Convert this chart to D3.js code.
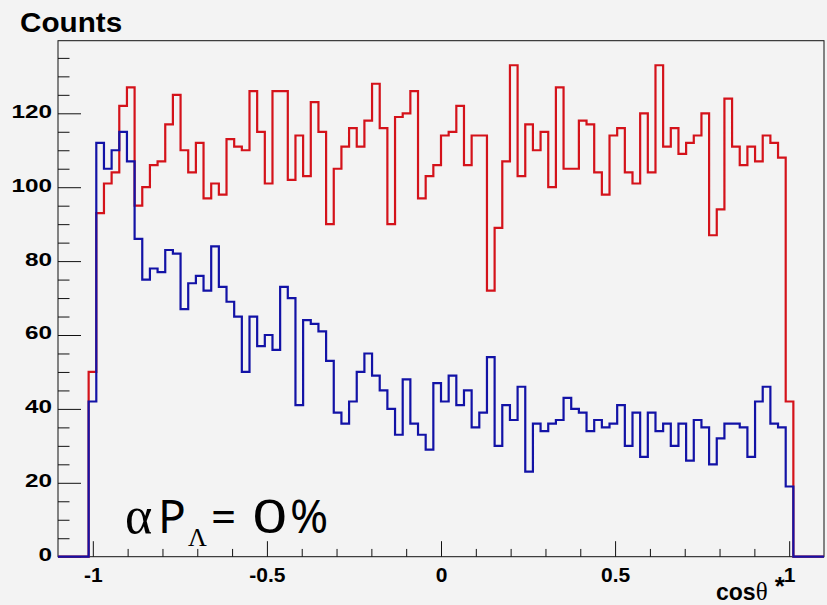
<!DOCTYPE html>
<html>
<head>
<meta charset="utf-8">
<script src="https://cdn.jsdelivr.net/npm/d3@7"></script>
<style>
  html, body { margin: 0; padding: 0; background: #f3f3f3; }
  svg { display: block; }
</style>
</head>
<body>
<svg id="chart" width="827" height="605"></svg>
<script>
// Histogram binning: 92 filled bins of width 0.022 starting at -1.012
const binLow = -1.012;
const binWidth = 0.022;

// Counts per bin (unpolarised sample, red)
const redCounts = [
  50, 93, 101, 104, 122, 127, 95, 100, 106, 107,
  117, 125, 110, 104, 112, 97, 101, 98, 113, 111,
  110, 126, 115, 101, 126, 126, 102, 114, 103, 123,
  115, 90, 105, 111, 116, 111, 118, 128, 116, 90,
  119, 120, 126, 97, 103, 106, 114, 115, 122, 106,
  114, 114, 72, 89, 107, 133, 103, 117, 110, 115,
  100, 127, 105, 105, 118, 117, 104, 98, 114, 116,
  104, 101, 120, 104, 133, 111, 116, 109, 112, 114,
  120, 87, 94, 124, 111, 106, 111, 107, 114, 112,
  108, 42
];

// Counts per bin (accepted sample, blue)
const blueCounts = [
  42, 112, 105, 110, 115, 107, 86, 75, 78, 77,
  83, 82, 67, 74, 76, 72, 84, 73, 69, 65,
  50, 65, 57, 60, 56, 73, 70, 41, 64, 63,
  61, 53, 39, 36, 42, 50, 55, 49, 45, 40,
  33, 48, 36, 33, 29, 47, 42, 49, 41, 45,
  35, 39, 54, 30, 41, 37, 46, 23, 36, 34,
  36, 37, 43, 40, 39, 34, 37, 35, 36, 41,
  30, 39, 27, 39, 34, 36, 30, 36, 26, 37,
  35, 25, 32, 36, 36, 35, 27, 42, 46, 36,
  35, 19
];

// Axis ranges and ticks
const xDomain = [-1.1, 1.1];
const yDomain = [0, 139.65];
const xMajorTicks = [-1, -0.5, 0, 0.5, 1];
const xTickLabels = ["-1", "-0.5", "0", "0.5", "1"];
const xMinorTicks = [-0.9, -0.8, -0.7, -0.6, -0.4, -0.3, -0.2, -0.1,
                     0.1, 0.2, 0.3, 0.4, 0.6, 0.7, 0.8, 0.9];
const yMajorTicks = [0, 20, 40, 60, 80, 100, 120];
const yMinorTicks = [5, 10, 15, 25, 30, 35, 45, 50, 55, 65, 70, 75,
                     85, 90, 95, 105, 110, 115, 125, 130, 135];

const frame = { left: 58, right: 824, top: 40.7, bottom: 556.7 };

const svg = d3.select("#chart");
svg.append("rect").attr("width", 827).attr("height", 605).attr("fill", "#f3f3f3");

const x = d3.scaleLinear().domain(xDomain).range([frame.left, frame.right]);
const y = d3.scaleLinear().domain(yDomain).range([frame.bottom, frame.top]);

// Frame
svg.append("rect")
  .attr("x", frame.left).attr("y", frame.top)
  .attr("width", frame.right - frame.left)
  .attr("height", frame.bottom - frame.top)
  .attr("fill", "#f3f3f3")
  .attr("stroke", "#111").attr("stroke-width", 1);

// Y axis (ticks pointing into the frame)
const yAxisMajor = d3.axisLeft(y).tickValues(yMajorTicks).tickSize(-23).tickPadding(6)
  .tickFormat(d3.format("d"));
const yAxisMinor = d3.axisLeft(y).tickValues(yMinorTicks).tickSize(-11.5).tickFormat("");

const gyMinor = svg.append("g").attr("transform", `translate(${frame.left},0)`).call(yAxisMinor);
const gyMajor = svg.append("g").attr("transform", `translate(${frame.left},0)`).call(yAxisMajor);
[gyMinor, gyMajor].forEach(g => {
  g.select(".domain").remove();
  g.selectAll("line").attr("stroke", "#111").attr("stroke-width", 1);
});
gyMajor.selectAll("text")
  .attr("x", -6 / 1.35)
  .attr("dy", "0.22em")
  .attr("transform", "scale(1.35,1)")
  .attr("fill", "#000")
  .style("font-family", "'Liberation Sans', Arial, sans-serif")
  .style("font-weight", "bold")
  .style("font-size", "18px");

// X axis (ticks pointing up into the frame)
const xAxisMajor = d3.axisBottom(x).tickValues(xMajorTicks).tickSize(-15.5).tickPadding(10)
  .tickFormat((d, i) => xTickLabels[i]);
const xAxisMinor = d3.axisBottom(x).tickValues(xMinorTicks).tickSize(-7.75).tickFormat("");

const gxMinor = svg.append("g").attr("transform", `translate(0,${frame.bottom})`).call(xAxisMinor);
const gxMajor = svg.append("g").attr("transform", `translate(0,${frame.bottom})`).call(xAxisMajor);
[gxMinor, gxMajor].forEach(g => {
  g.select(".domain").remove();
  g.selectAll("line").attr("stroke", "#111").attr("stroke-width", 1);
});
gxMajor.selectAll("text")
  .attr("y", 10)
  .attr("dy", "0.71em")
  .attr("fill", "#000")
  .style("font-family", "'Liberation Sans', Arial, sans-serif")
  .style("font-weight", "bold")
  .style("font-size", "21px");

// Histogram outlines
function stepPoints(counts) {
  const pts = [[xDomain[0], 0]];
  counts.forEach((c, i) => pts.push([binLow + i * binWidth, c]));
  pts.push([binLow + counts.length * binWidth, 0]);
  pts.push([xDomain[1], 0]);
  return pts;
}
const line = d3.line()
  .x(d => x(d[0]))
  .y(d => y(d[1]))
  .curve(d3.curveStepAfter);

svg.append("path")
  .datum(stepPoints(redCounts))
  .attr("d", line)
  .attr("fill", "none")
  .attr("stroke", "#d4121a")
  .attr("stroke-width", 2.2);

svg.append("path")
  .datum(stepPoints(blueCounts))
  .attr("d", line)
  .attr("fill", "none")
  .attr("stroke", "#1212a6")
  .attr("stroke-width", 2.2);

// Axis titles
svg.append("text")
  .attr("transform", "translate(20,32) scale(1.06,1)")
  .style("font-family", "'Liberation Sans', Arial, sans-serif")
  .style("font-weight", "bold")
  .style("font-size", "28px")
  .text("Counts");

const xt = svg.append("text")
  .attr("x", 716).attr("y", 600)
  .style("font-family", "'Liberation Sans', Arial, sans-serif")
  .style("font-size", "23px");
xt.append("tspan").style("font-weight", "bold").text("cos");
xt.append("tspan").style("font-family", "'Liberation Serif', serif").style("font-size", "25px").text("θ");
xt.append("tspan").attr("dx", 7).attr("dy", -5).style("font-weight", "bold").style("font-size", "26px").text("*");

// Annotation
const ann = svg.append("g")
  .style("font-family", "'Noto Sans', 'DejaVu Sans', sans-serif")
  .attr("fill", "#000");
ann.append("text").attr("x", 125).attr("y", 533)
  .style("font-family", "'Liberation Serif', serif").style("font-size", "52px").text("α");
ann.append("text").attr("x", 158).attr("y", 533).style("font-size", "46px").text("P");
ann.append("text").attr("x", 188).attr("y", 546)
  .style("font-family", "'Liberation Serif', serif").style("font-size", "26px").text("Λ");
ann.append("text").attr("x", 211).attr("y", 533).style("font-size", "44px").text("=");
ann.append("text").attr("transform", "translate(252,533) scale(1.35,1)")
  .style("font-size", "46px").text("0");
ann.append("text").attr("x", 290).attr("y", 533).style("font-size", "46px").text("%");
</script>
</body>
</html>
